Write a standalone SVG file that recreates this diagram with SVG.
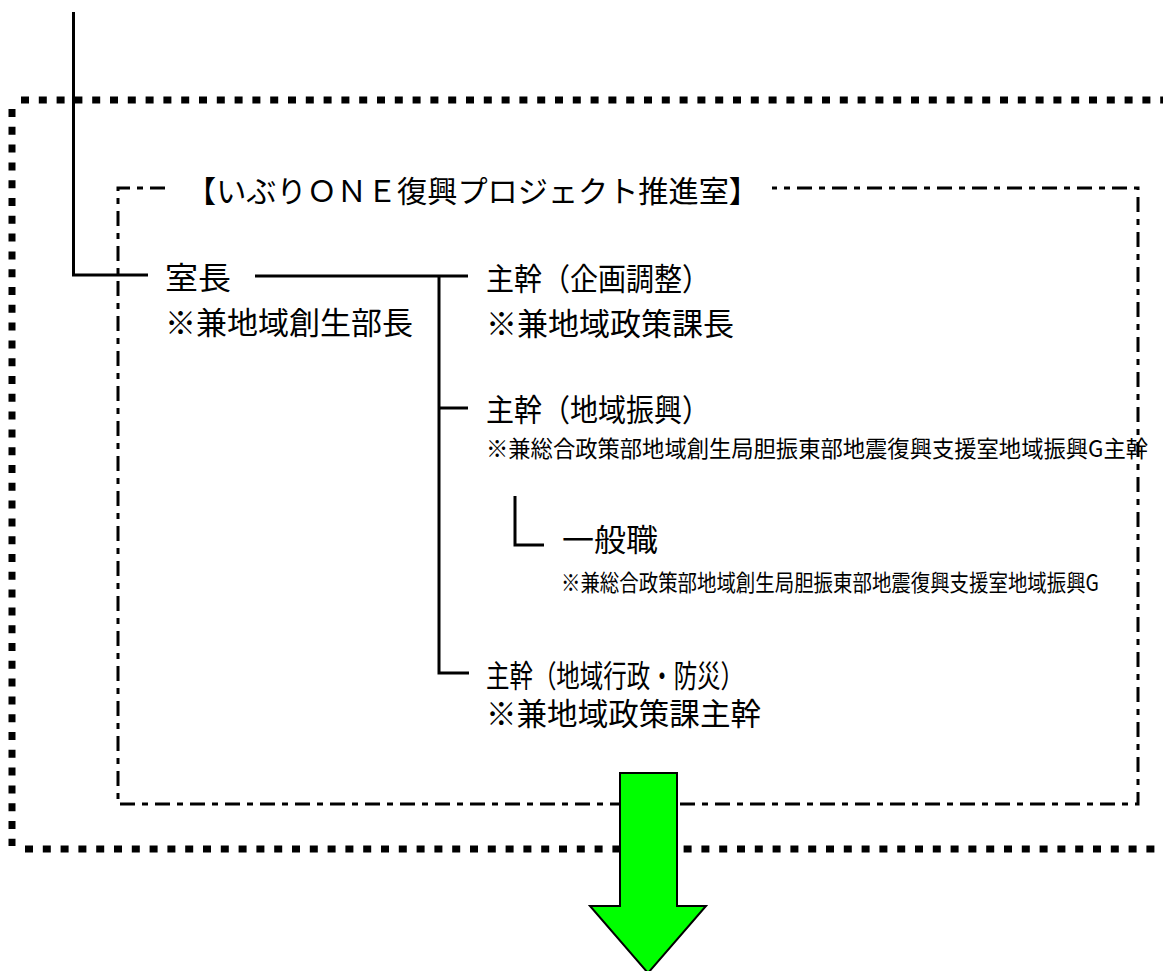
<svg xmlns="http://www.w3.org/2000/svg" width="1163" height="971" viewBox="0 0 1163 971">
<style>
.t{font-family:"Noto Sans CJK JP","Noto Sans",sans-serif;fill:#000}
.l{font-size:31px}
.s{font-size:23px}
.ln{stroke:#000;stroke-width:3;fill:none}
.outer{stroke:#000;stroke-width:7;fill:none;stroke-dasharray:8 9.8}
.inner{stroke:#000;stroke-width:3;fill:none;stroke-dasharray:15 7 6 7}
</style>
<rect width="1163" height="971" fill="#fff"/>
<g id="outer-frame">
<path class="outer" d="M21,100 H1175"/>
<path class="outer" d="M12,109 V846"/>
<path class="outer" d="M25,849 H1175"/>
</g>
<g id="inner-frame">
<path class="inner" d="M165,188 H118 V804 H1138 V188 H772"/>
<text class="t" x="186" y="202" font-size="30" textLength="573" lengthAdjust="spacingAndGlyphs">【いぶりＯＮＥ復興プロジェクト推進室】</text>
</g>
<g id="connectors">
<path class="ln" d="M73.5,12 V275 H148"/>
<path class="ln" d="M255,276 H468"/>
<path class="ln" d="M439,276 V673 H469"/>
<path class="ln" d="M439,408 H468"/>
<path class="ln" d="M515,496 V545 H544"/>
</g>
<g id="node-shitsucho">
<text class="t l" x="165" y="289" textLength="66" lengthAdjust="spacingAndGlyphs">室長</text>
<text class="t l" x="165" y="334" textLength="248" lengthAdjust="spacingAndGlyphs">※兼地域創生部長</text>
</g>
<g id="node-kikaku">
<text class="t l" x="486" y="290" textLength="224" lengthAdjust="spacingAndGlyphs">主幹（企画調整）</text>
<text class="t l" x="486" y="335" textLength="248" lengthAdjust="spacingAndGlyphs">※兼地域政策課長</text>
</g>
<g id="node-shinko">
<text class="t l" x="486" y="421" textLength="224" lengthAdjust="spacingAndGlyphs">主幹（地域振興）</text>
<text class="t s" x="486" y="457" textLength="662" lengthAdjust="spacingAndGlyphs">※兼総合政策部地域創生局胆振東部地震復興支援室地域振興G主幹</text>
</g>
<g id="node-ippan">
<text class="t l" x="562" y="551" textLength="96" lengthAdjust="spacingAndGlyphs">一般職</text>
<text class="t s" x="561" y="591" textLength="538" lengthAdjust="spacingAndGlyphs">※兼総合政策部地域創生局胆振東部地震復興支援室地域振興G</text>
</g>
<g id="node-bosai">
<text class="t l" x="486" y="687" textLength="258" lengthAdjust="spacingAndGlyphs">主幹（地域行政・防災）</text>
<text class="t l" x="486" y="725" textLength="275" lengthAdjust="spacingAndGlyphs">※兼地域政策課主幹</text>
</g>
<g id="arrow-down">
<polygon points="620,773 677,773 677,906 706,906 648,973 590,906 620,906" fill="#00ff00" stroke="#000" stroke-width="2"/>
</g>
</svg>
